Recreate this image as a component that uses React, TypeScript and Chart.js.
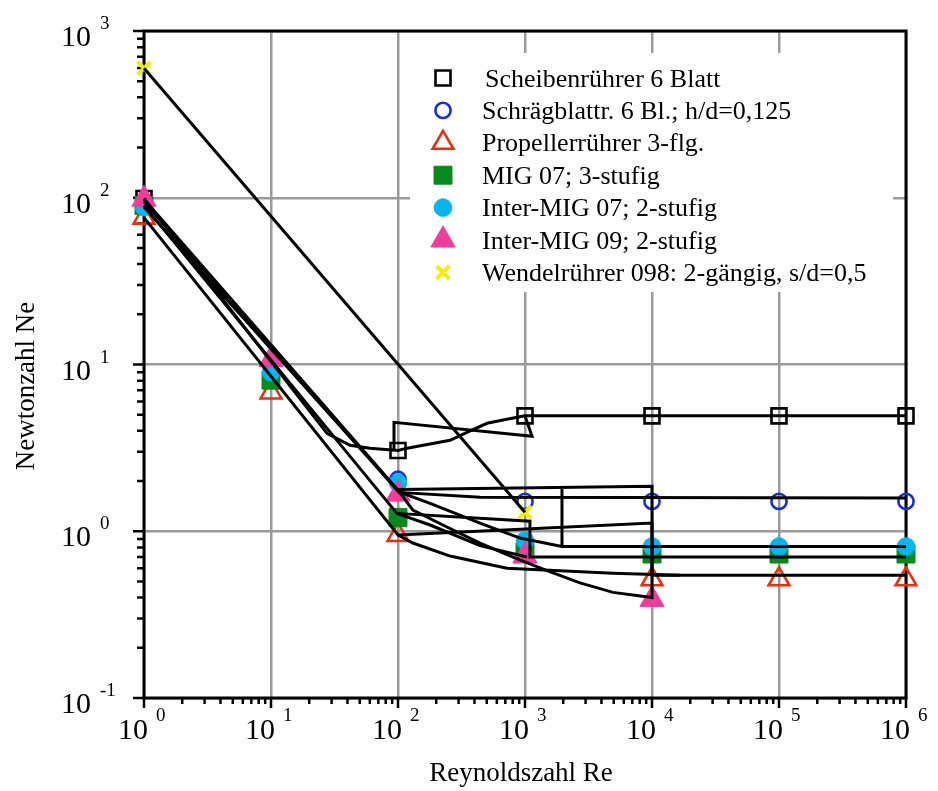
import React, { useEffect, useRef } from 'react';
import { Chart, registerables } from 'chart.js';

Chart.register(...registerables);

// ---------------- data ----------------
const reynolds = [1, 10, 100, 1000, 10000, 100000, 1000000];

const seriesLabels = [
  'Scheibenrührer 6 Blatt',
  'Schrägblattr. 6 Bl.; h/d=0,125',
  'Propellerrührer 3-flg.',
  'MIG 07; 3-stufig',
  'Inter-MIG 07; 2-stufig',
  'Inter-MIG 09; 2-stufig',
  'Wendelrührer 098: 2-gängig, s/d=0,5',
];

const neScheiben = [99, null, 3.05, 4.92, 4.92, 4.92, 4.92];
const neSchraeg = [95, null, 2.05, 1.51, 1.51, 1.51, 1.51];
const nePropeller = [76, 6.8, 0.95, null, 0.515, 0.515, 0.515];
const neMig07 = [90, 8.05, 1.21, 0.75, 0.73, 0.73, 0.73];
const neInterMig07 = [88, 9.0, 1.95, 0.88, 0.81, 0.81, 0.81];
const neInterMig09 = [98, 10.7, 1.67, 0.71, 0.39, null, null];
const neWendel = [598, null, null, 1.3, null, null, null];

const seriesValues = [neScheiben, neSchraeg, nePropeller, neMig07, neInterMig07, neInterMig09, neWendel];

// black connecting curves as [Re, Ne] pairs
const curveWendel = [[1, 598], [1000, 1.3]];
const curveScheiben = [[1, 99], [27.6, 3.87], [41.9, 3.28], [60.2, 3.15], [100, 3.05], [118, 3.15], [257, 3.51], [349, 3.92], [502, 4.44], [721, 4.69], [1000, 4.92], [1000000, 4.92]];
const curveScheibenLoop = [[1000, 4.92], [1136, 3.71], [93, 4.5], [93, 3.05]];
const curveSchraeg = [[1, 95], [102, 1.71], [442, 1.6], [1000000, 1.58]];
const curveInterMig09 = [[1, 98], [100, 1.76], [131, 1.34], [243, 1.06], [442, 0.85], [805, 0.7], [1490, 0.58], [2710, 0.49], [4930, 0.43], [10000, 0.4], [10000, 1.86], [100, 1.78]];
const curveInterMig07 = [[1, 88], [102, 1.72], [179, 1.47], [442, 1.12], [914, 0.91], [1955, 0.81], [1000000, 0.81]];
const curveInterMig07b = [[1955, 0.81], [1955, 1.79]];
const curveMig07 = [[1, 90], [98, 1.28], [1094, 1.15], [1094, 0.7], [1000000, 0.7]];
const curveMig07b = [[98, 1.28], [179, 1.09], [442, 0.82], [1037, 0.7]];
const curvePropeller = [[1, 76], [100, 0.95], [10000, 1.12], [10000, 0.545], [1000000, 0.545]];
const curvePropellerB = [[100, 0.95], [131, 0.85], [257, 0.71], [721, 0.6], [4930, 0.56], [16600, 0.545]];

const curves = [
  curveWendel, curveScheiben, curveScheibenLoop, curveSchraeg, curveInterMig09,
  curveInterMig07, curveInterMig07b, curveMig07, curveMig07b, curvePropeller, curvePropellerB,
];

// axis ticks
const xDecades = [1, 10, 100, 1000, 10000, 100000, 1000000];
const xExponents = ['0', '1', '2', '3', '4', '5', '6'];
const yDecades = [0.1, 1, 10, 100, 1000];
const yExponents = ['-1', '0', '1', '2', '3'];
const tickBase = '10';
const xTitle = 'Reynoldszahl Re';
const yTitle = 'Newtonzahl Ne';

// ---------------- styles ----------------
type MarkerStyle = { style: string; r: number; fill: string | null; stroke: string; lw: number };
const markerStyles: MarkerStyle[] = [
  { style: 'rect', r: 10.6, fill: null, stroke: '#000000', lw: 2.6 },
  { style: 'circle', r: 7.6, fill: null, stroke: '#1530d8', lw: 2.6 },
  { style: 'triangle', r: 12, fill: null, stroke: '#e8300c', lw: 2.6 },
  { style: 'rect', r: 12.7, fill: '#078a1c', stroke: '#078a1c', lw: 1 },
  { style: 'circle', r: 8.8, fill: '#00b6ec', stroke: '#00b6ec', lw: 1 },
  { style: 'triangle', r: 14, fill: '#f23c9c', stroke: '#f23c9c', lw: 1 },
  { style: 'crossRot', r: 9, fill: null, stroke: '#f4ee00', lw: 4 },
];

const SERIF = '"Liberation Serif", "Times New Roman", serif';

function drawMarker(ctx: CanvasRenderingContext2D, m: MarkerStyle, x: number, y: number) {
  const r = m.r;
  ctx.beginPath();
  if (m.style === 'circle') {
    ctx.arc(x, y, r, 0, Math.PI * 2);
    ctx.closePath();
  } else if (m.style === 'rect') {
    const s = r * Math.SQRT1_2;
    ctx.rect(x - s, y - s, 2 * s, 2 * s);
  } else if (m.style === 'triangle') {
    let a = 0;
    ctx.moveTo(x + Math.sin(a) * r, y - Math.cos(a) * r);
    a += (2 * Math.PI) / 3;
    ctx.lineTo(x + Math.sin(a) * r, y - Math.cos(a) * r);
    a += (2 * Math.PI) / 3;
    ctx.lineTo(x + Math.sin(a) * r, y - Math.cos(a) * r);
    ctx.closePath();
  } else if (m.style === 'crossRot') {
    const o = r * Math.SQRT1_2;
    ctx.moveTo(x - o, y - o);
    ctx.lineTo(x + o, y + o);
    ctx.moveTo(x - o, y + o);
    ctx.lineTo(x + o, y - o);
  }
  if (m.fill) {
    ctx.fillStyle = m.fill;
    ctx.fill();
  }
  ctx.lineWidth = m.lw;
  ctx.strokeStyle = m.stroke;
  ctx.stroke();
}

const decorPlugin = {
  id: 'decor',
  beforeDatasetsDraw(chart: any) {
    const { ctx, chartArea: a, scales } = chart;
    const xs = scales.x;
    const ys = scales.y;
    ctx.save();

    // legend box (white, covers the grid)
    const lx = 410, ly = 53, lw = 483, lh = 239;
    ctx.fillStyle = '#ffffff';
    ctx.fillRect(lx, ly, lw, lh);
    ctx.font = `26px ${SERIF}`;
    ctx.textAlign = 'left';
    ctx.textBaseline = 'alphabetic';
    seriesLabels.forEach((label, i) => {
      const cy = 78 + i * 32.4;
      drawMarker(ctx, markerStyles[i], 443, cy);
      ctx.fillStyle = '#000';
      ctx.fillText(label, i === 0 ? 485 : 482, cy + 8.5);
    });

    // frame
    ctx.strokeStyle = '#000';
    ctx.lineWidth = 3;
    ctx.strokeRect(a.left, a.top, a.right - a.left, a.bottom - a.top);

    // ticks
    ctx.lineWidth = 2.5;
    ctx.beginPath();
    for (let i = 0; i < xDecades.length; i++) {
      const px = xs.getPixelForValue(xDecades[i]);
      ctx.moveTo(px, a.bottom);
      ctx.lineTo(px, a.bottom + 10);
      if (i < xDecades.length - 1) {
        for (let k = 2; k <= 9; k++) {
          const mx = xs.getPixelForValue(xDecades[i] * k);
          ctx.moveTo(mx, a.bottom);
          ctx.lineTo(mx, a.bottom + 6);
        }
      }
    }
    for (let i = 0; i < yDecades.length; i++) {
      const py = ys.getPixelForValue(yDecades[i]);
      ctx.moveTo(a.left, py);
      ctx.lineTo(a.left - 11, py);
      if (i < yDecades.length - 1) {
        for (let k = 2; k <= 9; k++) {
          const my = ys.getPixelForValue(yDecades[i] * k);
          ctx.moveTo(a.left, my);
          ctx.lineTo(a.left - 7, my);
        }
      }
    }
    ctx.stroke();

    // tick labels
    ctx.fillStyle = '#000';
    for (let i = 0; i < xDecades.length; i++) {
      const px = xs.getPixelForValue(xDecades[i]);
      ctx.font = `30px ${SERIF}`;
      ctx.textAlign = 'right';
      ctx.fillText(tickBase, px + 4, a.bottom + 41);
      ctx.font = `19px ${SERIF}`;
      ctx.textAlign = 'left';
      ctx.fillText(xExponents[i], px + 12, a.bottom + 23);
    }
    for (let i = 0; i < yDecades.length; i++) {
      const py = ys.getPixelForValue(yDecades[i]);
      ctx.font = `30px ${SERIF}`;
      ctx.textAlign = 'right';
      ctx.fillText(tickBase, a.left - 53, py + 15);
      ctx.font = `19px ${SERIF}`;
      ctx.textAlign = 'left';
      ctx.fillText(yExponents[i], a.left - 44, py - 2);
    }

    // axis titles
    ctx.font = `27px ${SERIF}`;
    ctx.textAlign = 'center';
    ctx.fillText(xTitle, (a.left + a.right) / 2 - 4, 781);
    ctx.save();
    ctx.translate(27, 386);
    ctx.rotate(-Math.PI / 2);
    ctx.textBaseline = 'middle';
    ctx.fillText(yTitle, 0, 0);
    ctx.restore();

    ctx.restore();
  },
};

export default function App() {
  const ref = useRef<HTMLCanvasElement | null>(null);

  useEffect(() => {
    if (!ref.current) return;
    const datasets: any[] = [];
    curves.forEach((c) => {
      datasets.push({
        data: c.map(([x, y]) => ({ x, y })),
        showLine: true,
        borderColor: '#000000',
        borderWidth: 3,
        pointRadius: 0,
        pointHoverRadius: 0,
        tension: 0,
        fill: false,
        order: 0,
        clip: false,
      });
    });
    seriesValues.forEach((vals, i) => {
      const m = markerStyles[i];
      const pts: any[] = [];
      vals.forEach((v, j) => {
        if (v !== null) pts.push({ x: reynolds[j], y: v });
      });
      datasets.push({
        label: seriesLabels[i],
        data: pts,
        showLine: false,
        pointStyle: m.style,
        pointRadius: m.r,
        pointHoverRadius: m.r,
        pointBackgroundColor: m.fill ?? 'rgba(0,0,0,0)',
        pointBorderColor: m.stroke,
        pointBorderWidth: m.lw,
        order: 10 - i,
        clip: false,
      });
    });

    const chart = new Chart(ref.current, {
      type: 'scatter',
      data: { datasets },
      options: {
        animation: false,
        responsive: false,
        devicePixelRatio: 1,
        layout: { padding: { left: 144, right: 32, top: 31, bottom: 93 } },
        plugins: { legend: { display: false }, tooltip: { enabled: false }, title: { display: false } },
        events: [],
        scales: {
          x: {
            type: 'logarithmic',
            min: 1,
            max: 1000000,
            afterBuildTicks: (s: any) => {
              s.ticks = xDecades.map((v) => ({ value: v }));
            },
            ticks: { display: false },
            grid: { color: '#9a9a9a', lineWidth: 2.5, drawTicks: false },
            border: { display: false },
          },
          y: {
            type: 'logarithmic',
            min: 0.1,
            max: 1000,
            afterBuildTicks: (s: any) => {
              s.ticks = yDecades.map((v) => ({ value: v }));
            },
            ticks: { display: false },
            grid: { color: '#9a9a9a', lineWidth: 2.5, drawTicks: false },
            border: { display: false },
          },
        },
      } as any,
      plugins: [decorPlugin],
    });
    return () => chart.destroy();
  }, []);

  return (
    <canvas
      ref={ref}
      width={938}
      height={791}
      style={{ position: 'fixed', left: 0, top: 0, width: 938, height: 791, display: 'block', background: '#fff' }}
    />
  );
}
